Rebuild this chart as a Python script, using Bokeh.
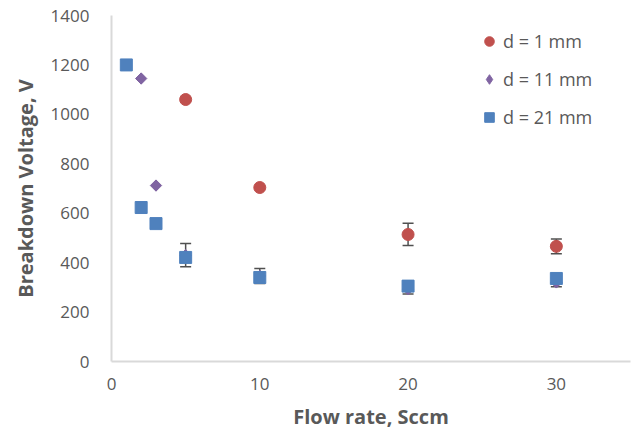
import math
from bokeh.plotting import figure
from bokeh.models import ColumnDataSource, Whisker, TeeHead, Legend, LegendItem, Range1d, FixedTicker
from bokeh.embed import file_html
from bokeh.resources import INLINE

# Data
x_1mm = [5, 10, 20, 30]
v_1mm = [1060, 704, 514, 466]
e_1mm = [0, 0, 45, 30]

x_11mm = [2, 3, 5, 10, 20, 30]
v_11mm = [1145, 712, 430, 346, 293, 320]
e_11mm = [0, 0, 47, 30, 20, 18]

x_21mm = [1, 2, 3, 5, 10, 20, 30]
v_21mm = [1200, 623, 558, 421, 340, 305, 336]

x_ticks = [0, 10, 20, 30]
y_ticks = [0, 200, 400, 600, 800, 1000, 1200, 1400]

FONT = "Open Sans"
GRAY = "#595959"

p = figure(width=632, height=432, output_backend="svg", toolbar_location=None,
           x_range=Range1d(0, 35), y_range=Range1d(0, 1400),
           min_border_left=111, min_border_right=2, min_border_top=15, min_border_bottom=71)
p.outline_line_color = None
p.xgrid.visible = False
p.ygrid.visible = False

for ax in (p.xaxis[0], p.yaxis[0]):
    ax.axis_line_color = "#d9d9d9"
    ax.axis_line_width = 2
    ax.major_tick_line_color = None
    ax.minor_tick_line_color = None
    ax.major_label_text_font = FONT
    ax.major_label_text_font_size = "17px"
    ax.major_label_text_color = GRAY
    ax.axis_label_text_font = FONT
    ax.axis_label_text_font_size = "20px"
    ax.axis_label_text_font_style = "bold"
    ax.axis_label_text_color = GRAY

p.xaxis.ticker = FixedTicker(ticks=x_ticks)
p.yaxis.ticker = FixedTicker(ticks=y_ticks)
p.xaxis.axis_label = "Flow rate, Sccm"
p.yaxis.axis_label = "Breakdown Voltage, V"
p.xaxis.major_label_standoff = 10
p.yaxis.major_label_standoff = 16
p.xaxis.axis_label_standoff = 10
p.yaxis.axis_label_standoff = 9

def whiskers(xs, vs, es):
    idx = [i for i, e in enumerate(es) if e > 0]
    src = ColumnDataSource(dict(
        x=[xs[i] for i in idx],
        lo=[vs[i] - es[i] for i in idx],
        hi=[vs[i] + es[i] for i in idx]))
    w = Whisker(source=src, base="x", lower="lo", upper="hi",
                line_color="#505050", line_width=1.5,
                upper_head=TeeHead(size=11, line_color="#505050", line_width=1.5),
                lower_head=TeeHead(size=11, line_color="#505050", line_width=1.5))
    p.add_layout(w)

whiskers(x_1mm, v_1mm, e_1mm)
whiskers(x_11mm, v_11mm, e_11mm)

r1 = p.scatter(x_1mm, v_1mm, marker="circle", size=12, fill_color="#C0504D", line_color="#C0504D")
# diamond glyph used for the legend entry; hidden under the rotated squares below
r2_leg = p.scatter(x_11mm, v_11mm, marker="diamond", size=11, fill_color="#8064A2", line_color="#8064A2")
r2 = p.scatter(x_11mm, v_11mm, marker="square", angle=math.pi / 4, size=8,
               fill_color="#8064A2", line_color="#8064A2")
r3 = p.scatter(x_21mm, v_21mm, marker="square", size=12, fill_color="#4F81BD", line_color="#4F81BD")

legend = Legend(items=[LegendItem(label="d = 1 mm", renderers=[r1]),
                       LegendItem(label="d = 11 mm", renderers=[r2_leg]),
                       LegendItem(label="d = 21 mm", renderers=[r3])],
                location=(366, 232))
legend.background_fill_alpha = 0
legend.border_line_color = None
legend.label_text_font = FONT
legend.label_text_font_size = "18px"
legend.label_text_color = GRAY
legend.spacing = 14
legend.glyph_width = 24
legend.glyph_height = 24
legend.label_standoff = 2
p.add_layout(legend, "center")

open("out.html", "w").write(file_html(p, INLINE))
